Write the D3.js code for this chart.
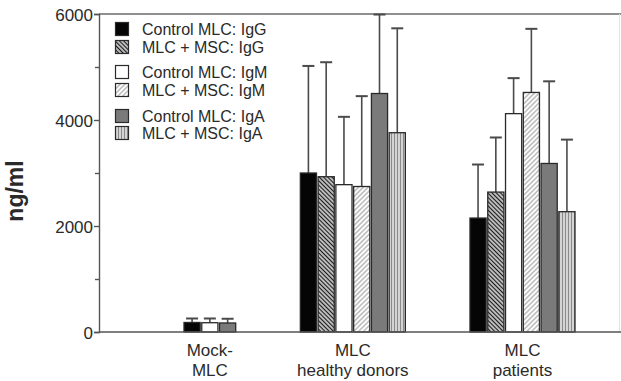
<!DOCTYPE html>
<html lang="en">
<head>
    <meta charset="UTF-8">
    <title>Immunoglobulins</title>
    <style>
        body { margin: 0; background: #fff; }
        svg text { font-family: "Liberation Sans", Arial, sans-serif; fill: #2a2a2a; }
    </style>
    <script src="https://cdn.jsdelivr.net/npm/d3@7"></script>
</head>
<body>
<svg width="621" height="381"></svg>
<script type="text/javascript">
    // groups on the x axis (two lines each)
    var groups = [["Mock-", "MLC"], ["MLC", "healthy donors"], ["MLC", "patients"]];
    var series = ["Control MLC: IgG", "MLC + MSC: IgG", "Control MLC: IgM",
                  "MLC + MSC: IgM", "Control MLC: IgA", "MLC + MSC: IgA"];
    // means and SD (ng/ml), null = not measured
    var mockMean    = [180, null, 175, null, 170, null];
    var mockSd      = [75, null, 80, null, 80, null];
    var healthyMean = [3000, 2930, 2780, 2745, 4500, 3760];
    var healthySd   = [2020, 2160, 1280, 1705, 1490, 1970];
    var patientMean = [2150, 2640, 4120, 4520, 3180, 2270];
    var patientSd   = [1010, 1030, 670, 1200, 1550, 1360];
    var yTicks = [0, 2000, 4000, 6000];
    var yMinor = [1000, 3000, 5000];

    var means = [mockMean, healthyMean, patientMean];
    var sds = [mockSd, healthySd, patientSd];

    var svg = d3.select("svg");
    // note: "top" is reserved on window, so plot edges get their own names
    var plotL = 99, plotR = 621, plotT = 14, plotB = 332;

    // fills per series
    var defs = svg.append("defs");
    function stripes(id, angle, size, bg, fg, w) {
        var p = defs.append("pattern")
            .attr("id", id)
            .attr("patternUnits", "userSpaceOnUse")
            .attr("width", size).attr("height", size)
            .attr("patternTransform", "rotate(" + angle + ")");
        p.append("rect").attr("width", size).attr("height", size).attr("fill", bg);
        p.append("line").attr("x1", size / 2).attr("x2", size / 2)
            .attr("y1", 0).attr("y2", size)
            .attr("stroke", fg).attr("stroke-width", w);
    }
    stripes("hatchG", -45, 3, "#fff", "#1a1a1a", 1.6);
    stripes("hatchM", 45, 3.4, "#fff", "#a0a0a0", 1.1);
    stripes("vertA", 0, 3, "#d4d4d4", "#8a8a8a", 1);
    var fills = ["#050505", "url(#hatchG)", "#ffffff", "url(#hatchM)", "#7a7a7a", "url(#vertA)"];

    var y = d3.scaleLinear().domain([0, 6000]).range([plotB, plotT]);

    // build bar slots: bar = 1 unit, small gap inside group, wide gap between groups
    var innerGap = 0.1, groupGap = 4.0;
    var bars = [], centers = [], pos = 0;
    groups.forEach(function (g, gi) {
        var start = pos, k = 0;
        series.forEach(function (s, si) {
            var v = means[gi][si];
            if (v == null) return;
            if (k > 0) pos += innerGap;
            bars.push({ g: gi, s: si, x0: pos, v: v, sd: sds[gi][si] });
            pos += 1; k++;
        });
        centers.push((start + pos) / 2);
        pos += groupGap;
    });
    var total = pos - groupGap;
    var x = d3.scaleLinear().domain([0, total]).range([184, 575]);
    var unit = x(1) - x(0);

    // frame
    svg.append("line").attr("x1", plotL).attr("x2", plotR).attr("y1", plotT).attr("y2", plotT)
        .attr("stroke", "#6a6a6a").attr("stroke-width", 1.5);
    svg.append("line").attr("x1", 619.5).attr("x2", 619.5).attr("y1", plotT).attr("y2", plotB)
        .attr("stroke", "#e4e4e4").attr("stroke-width", 1);

    // error bars (upper only)
    var err = svg.append("g").attr("stroke", "#4a4a4a").attr("stroke-width", 1.6);
    bars.forEach(function (b) {
        var cx = x(b.x0 + 0.5);
        err.append("line").attr("x1", cx).attr("x2", cx)
            .attr("y1", y(b.v)).attr("y2", y(b.v + b.sd));
        err.append("line").attr("x1", cx - 6).attr("x2", cx + 6)
            .attr("y1", y(b.v + b.sd)).attr("y2", y(b.v + b.sd))
            .attr("stroke-width", 2);
    });

    // bars
    svg.append("g").selectAll("rect")
        .data(bars)
        .enter()
        .append("rect")
        .attr("x", function (d) { return x(d.x0); })
        .attr("width", unit)
        .attr("y", function (d) { return y(d.v); })
        .attr("height", function (d) { return y(0) - y(d.v); })
        .attr("fill", function (d) { return fills[d.s]; })
        .attr("stroke", "#2a2a2a")
        .attr("stroke-width", 1.3);

    // y axis
    var yAxis = svg.append("g")
        .attr("transform", "translate(" + plotL + ",0)")
        .call(d3.axisLeft(y).tickValues(yTicks).tickSize(5).tickPadding(1).tickFormat(d3.format("d")));
    yAxis.selectAll("text").style("font-size", "17px").attr("dy", "0.36em");
    svg.append("g")
        .attr("transform", "translate(" + plotL + ",0)")
        .call(d3.axisLeft(y).tickValues(yMinor).tickSize(4).tickFormat(""))
        .select(".domain").remove();
    svg.selectAll(".tick line, .domain").attr("stroke", "#555").attr("stroke-width", 1.4);

    // x axis baseline
    svg.append("line").attr("x1", plotL).attr("x2", plotR).attr("y1", plotB).attr("y2", plotB)
        .attr("stroke", "#555").attr("stroke-width", 1.5);

    // group labels
    groups.forEach(function (g, gi) {
        var t = svg.append("text")
            .attr("text-anchor", "middle")
            .style("font-size", "17px");
        g.forEach(function (line, li) {
            t.append("tspan").attr("x", x(centers[gi])).attr("y", 356 + li * 20).text(line);
        });
    });

    // y title
    svg.append("text")
        .attr("transform", "translate(23,191) rotate(-90)")
        .attr("text-anchor", "middle")
        .style("font-size", "23px")
        .style("font-weight", "bold")
        .text("ng/ml");

    // legend
    var legendY = [29, 47, 72, 90, 116, 133];
    var legend = svg.append("g");
    series.forEach(function (s, i) {
        legend.append("rect")
            .attr("x", 115.5).attr("y", legendY[i] - 6.5)
            .attr("width", 13).attr("height", 13)
            .attr("fill", fills[i])
            .attr("stroke", "#2a2a2a").attr("stroke-width", 1.2);
        legend.append("text")
            .attr("x", 142).attr("y", legendY[i] + 5.5)
            .style("font-size", "16px")
            .text(s);
    });
</script>
</body>
</html>
